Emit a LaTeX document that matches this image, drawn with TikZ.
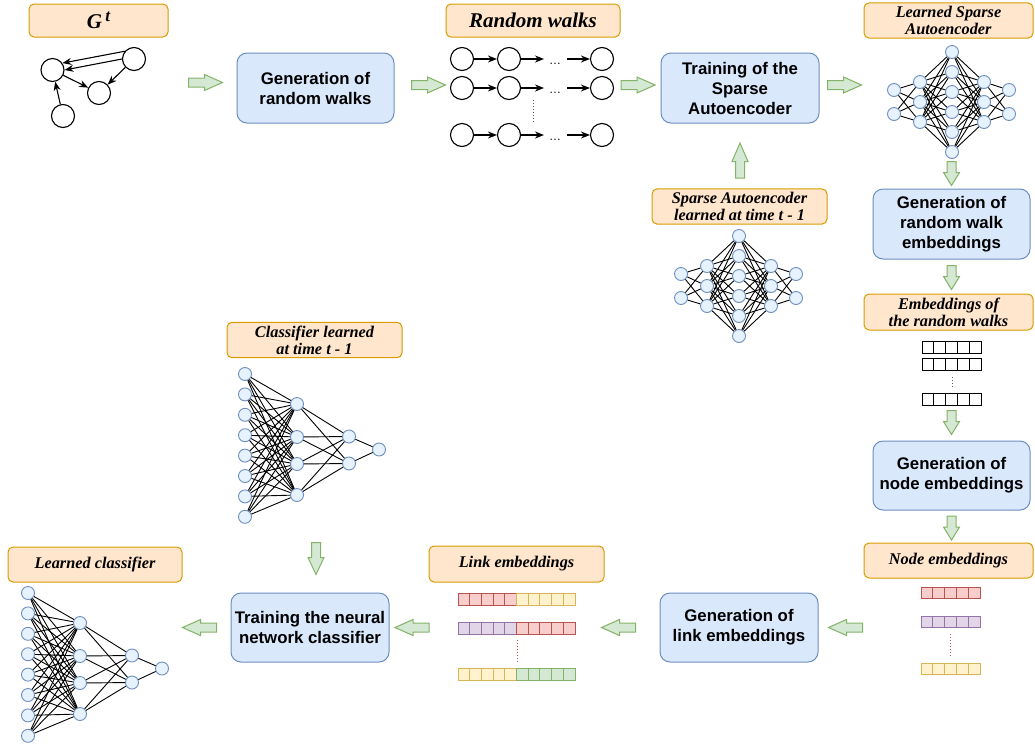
\documentclass[tikz,border=0pt]{standalone}
\usepackage{fontspec}
\setmainfont{Liberation Serif}
\setsansfont{Liberation Sans}
\usetikzlibrary{arrows.meta,calc}

\definecolor{boxfill}{HTML}{DAE8FC}
\definecolor{boxline}{HTML}{6C8EBF}
\definecolor{tagfill}{HTML}{FFE6CC}
\definecolor{tagline}{HTML}{D79B00}
\definecolor{arrfill}{HTML}{D5E8D4}
\definecolor{arrline}{HTML}{82B366}
\definecolor{neufill}{HTML}{E6F3FF}
\definecolor{redF}{HTML}{F8CECC}
\definecolor{redD}{HTML}{B85450}
\definecolor{purF}{HTML}{E1D5E7}
\definecolor{purD}{HTML}{9673A6}
\definecolor{yelF}{HTML}{FFF2CC}
\definecolor{yelD}{HTML}{D6B656}
\definecolor{grnF}{HTML}{D5E8D4}
\definecolor{grnD}{HTML}{82B366}

\begin{document}
\begin{tikzpicture}[x=1pt, y=-1pt,
    stepbox/.style={draw=boxline, fill=boxfill, line width=1pt, rounded corners=10pt, minimum width=157pt, minimum height=70pt, align=center, font=\sffamily\bfseries\fontsize{16.8}{20}\selectfont},
    tag/.style={draw=tagline, fill=tagfill, line width=1pt, rounded corners=5pt, minimum width=174pt, minimum height=35pt, align=center, font=\bfseries\itshape\fontsize{16.3}{17}\selectfont},
    vertex/.style={circle, draw, line width=1.1pt, minimum size=23pt, inner sep=0pt},
    neuron/.style={circle, draw=boxline, fill=neufill, line width=0.9pt, minimum size=13pt, inner sep=0pt},
    synapse/.style={line width=0.9pt},
    edge/.style={-{Stealth[length=9pt,width=7pt]}, line width=1.1pt},
    walk/.style={-{Stealth[length=9pt,width=7pt]}, line width=1.6pt},
    cell/.style={line width=1pt},
    ellip/.style={dotted, line width=1pt},
    pics/barrow/.style={code={
      \draw[draw=arrline, fill=arrfill, line width=1pt] (-#1,-4.5) -- (-1,-4.5) -- (-1,-8) -- (#1,0) -- (-1,8) -- (-1,4.5) -- (-#1,4.5) -- cycle;
    }},
    pics/autoenc/.style={code={
      \foreach \i/\dy in {1/-12,2/12} \node[neuron] (-a\i) at (-58,\dy) {};
      \foreach \i/\dy in {1/-20,2/0,3/20} \node[neuron] (-b\i) at (-32,\dy) {};
      \foreach \i/\dy in {1/-50,2/-30,3/-10,4/10,5/30,6/50} \node[neuron] (-c\i) at (0,\dy) {};
      \foreach \i/\dy in {1/-20,2/0,3/20} \node[neuron] (-d\i) at (32,\dy) {};
      \foreach \i/\dy in {1/-12,2/12} \node[neuron] (-e\i) at (57,\dy) {};
      \foreach \i in {1,2} \foreach \j in {1,2,3} \draw[synapse] (-a\i) -- (-b\j) (-e\i) -- (-d\j);
      \foreach \i in {1,2,3} \foreach \j in {1,...,6} \draw[synapse] (-b\i) -- (-c\j) (-d\i) -- (-c\j);
    }},
    pics/classif/.style={code={
      \foreach \i in {1,...,8} \node[neuron] (-a\i) at (0,{(\i-1)*20.4}) {};
      \foreach \i/\dy in {1/30,2/63,3/90,4/121} \node[neuron] (-b\i) at (52,\dy) {};
      \foreach \i/\dy in {1/62.5,2/89.5} \node[neuron] (-c\i) at (104,\dy) {};
      \node[neuron] (-d) at (134,75.5) {};
      \foreach \i in {1,...,8} \foreach \j in {1,...,4} \draw[synapse] (-a\i) -- (-b\j);
      \foreach \i in {1,...,4} \foreach \j in {1,2} \draw[synapse] (-b\i) -- (-c\j);
      \foreach \j in {1,2} \draw[synapse] (-c\j) -- (-d);
    }}
  ]
  \useasboundingbox (0,0) rectangle (1035,745);

  % Labels
  \node[tag, minimum width=139pt, minimum height=33pt] (gtag) at (98.5,20.5) {\fontsize{21}{21}\selectfont G\,\raisebox{7pt}{\fontsize{17}{17}\selectfont t}};
  \node[tag, minimum height=33pt, font=\bfseries\itshape\fontsize{21}{22}\selectfont] (rwtag) at (533,20.5) {Random walks};
  \node[tag, minimum width=169pt] (lsatag) at (948.5,20.5) {Learned Sparse\\Autoencoder};
  \node[tag, minimum width=175pt] (sat1tag) at (739.5,206.5) {Sparse Autoencoder\\learned at time t - 1};
  \node[tag, minimum width=169pt, minimum height=36pt] (erwtag) at (948.5,312) {Embeddings of\\the random walks};
  \node[tag, minimum width=175pt, minimum height=34pt] (clt1tag) at (314.5,340) {Classifier learned\\at time t - 1};
  \node[tag] (lctag) at (95,564.5) {Learned classifier};
  \node[tag, minimum width=175pt, minimum height=36pt] (letag) at (516.5,564) {Link embeddings};
  \node[tag, minimum width=169pt] (netag) at (948.5,560.5) {Node embeddings};

  % Process boxes
  \node[stepbox] (genrw) at (315.5,88) {Generation of\\random walks};
  \node[stepbox, minimum width=158pt] (trainsa) at (740,88) {Training of the\\Sparse\\Autoencoder};
  \node[stepbox] (genrwe) at (951.5,224) {Generation of\\random walk\\embeddings};
  \node[stepbox, minimum height=69pt] (genne) at (951.5,475.5) {Generation of\\node embeddings};
  \node[stepbox, minimum width=158pt, minimum height=69pt] (genle) at (739,627.5) {Generation of\\link embeddings};
  \node[stepbox, minimum width=158pt, minimum height=69pt] (trainnn) at (310,627.5) {Training the neural\\network classifier};

  % Graph G^t
  \node[vertex] (ga) at (52.5,70) {};
  \node[vertex] (gb) at (134,59) {};
  \node[vertex] (gc) at (99,93) {};
  \node[vertex] (gd) at (63,116) {};
  \draw[edge] (gb.140) -- (ga.35);
  \draw[edge] (gb.west) -- (ga.east);
  \draw[edge] (gb) -- (gc);
  \draw[edge] (ga) -- (gc);
  \draw[edge] (gd) -- (ga);

  % Random walks
  \foreach \r/\y in {1/59, 2/88, 3/135} {
    \node[vertex] (w\r-a) at (462,\y) {};
    \node[vertex] (w\r-b) at (509,\y) {};
    \node[vertex] (w\r-c) at (602,\y) {};
    \coordinate (w\r-p) at (544,\y);
    \coordinate (w\r-q) at (567,\y);
    \node[anchor=base, inner sep=0pt, font=\sffamily\fontsize{12}{12}\selectfont] (w\r-dots) at (555,\y+5) {\dots};
    \draw[walk] (w\r-a) -- (w\r-b);
    \draw[walk] (w\r-b) -- (w\r-p);
    \draw[walk] (w\r-q) -- (w\r-c);
  }
  \draw[ellip, gray!70!black] (533,100) -- (533,122);

  % Neural networks
  \pic (lsa) at (952,102) {autoenc};
  \pic (sat1) at (739,286) {autoenc};
  \pic (clt1) at (245,374) {classif};
  \pic (lc) at (28,593) {classif};

  % Random walk embeddings
  \foreach \y in {341,358,393}
    \foreach \k in {0,...,4}
      \draw[cell] ({922+\k*11.8},\y) rectangle +(11.8,12);
  \draw[ellip, gray!70!black] (952,377) -- (952,388);

  % Node embeddings
  \foreach \y/\cf/\cd in {587/redF/redD, 616/purF/purD, 663/yelF/yelD}
    \foreach \k in {0,...,4}
      \draw[cell, fill=\cf, draw=\cd] ({921+\k*11.8},\y) rectangle +(11.8,11.5);
  \draw[ellip, redD] (950.5,634) -- (950.5,657);

  % Link embeddings
  \foreach \y/\fa/\da/\fb/\db in {593/redF/redD/yelF/yelD, 622/purF/purD/redF/redD, 668/yelF/yelD/grnF/grnD} {
    \foreach \k in {0,...,4}
      \draw[cell, fill=\fa, draw=\da] ({458+\k*11.7},\y) rectangle +(11.7,12);
    \foreach \k in {5,...,9}
      \draw[cell, fill=\fb, draw=\db] ({458+\k*11.7},\y) rectangle +(11.7,12);
  }
  \draw[ellip, redD] (517,640) -- (517,662);

  % Flow arrows
  \pic at ($(genrw.west)+(-31,-5.5)$) {barrow=17};
  \pic at ($(genrw.east)+(34,-3)$) {barrow=17};
  \pic at ($(trainsa.west)+(-22.5,-3)$) {barrow=17};
  \pic at ($(trainsa.east)+(25,-3)$) {barrow=17};
  \pic[rotate=90] at ($(trainsa.south)+(0,37)$) {barrow=17.5};
  \pic[rotate=-90] at ($(genrwe.north)+(0,-15)$) {barrow=12};
  \pic[rotate=-90] at ($(genrwe.south)+(0,18)$) {barrow=12};
  \pic[rotate=-90] at ($(genne.north)+(0,-18)$) {barrow=12};
  \pic[rotate=-90] at ($(genne.south)+(0,17.5)$) {barrow=12};
  \pic[rotate=180] at ($(genle.east)+(27,0)$) {barrow=17};
  \pic[rotate=180] at ($(genle.west)+(-41,0)$) {barrow=17};
  \pic[rotate=180] at ($(trainnn.east)+(22.5,0)$) {barrow=17};
  \pic[rotate=180] at ($(trainnn.west)+(-31,0)$) {barrow=17};
  \pic[rotate=-90] at ($(trainnn.north)+(6,-34)$) {barrow=16};

\end{tikzpicture}
\end{document}
